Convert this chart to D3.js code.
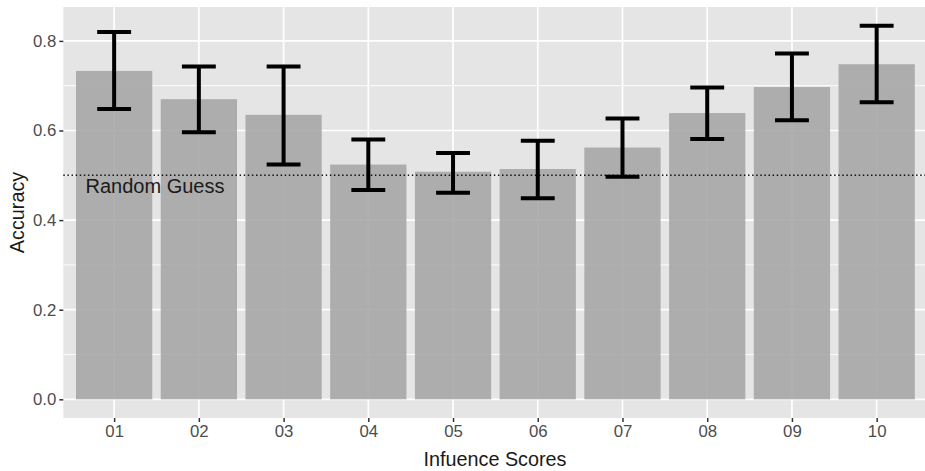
<!DOCTYPE html>
<html>
<head>
<meta charset="utf-8">
<script src="https://cdn.jsdelivr.net/npm/d3@7"></script>
<style>
  html, body { margin: 0; padding: 0; background: #fff; }
  svg { display: block; font-family: "Liberation Sans", Arial, sans-serif; }
</style>
</head>
<body>
<svg id="chart" width="925" height="471"></svg>
<script>
const categories = ["01","02","03","04","05","06","07","08","09","10"];
const accuracy   = [0.733, 0.670, 0.635, 0.524, 0.508, 0.514, 0.562, 0.639, 0.697, 0.748];
const errLow     = [0.648, 0.596, 0.524, 0.467, 0.461, 0.449, 0.497, 0.581, 0.623, 0.663];
const errHigh    = [0.820, 0.743, 0.743, 0.580, 0.550, 0.577, 0.627, 0.696, 0.772, 0.834];
const yTicks     = [0.0, 0.2, 0.4, 0.6, 0.8];
const yMinor     = [0.1, 0.3, 0.5, 0.7];
const randomGuess = 0.5;
const refLabel = "Random Guess";
const xTitle = "Infuence Scores";
const yTitle = "Accuracy";

const svg = d3.select("#chart");
const panel = {left: 63.3, top: 7, right: 927.5, bottom: 418};

const xc = d3.scalePoint().domain(categories).range([panel.left, panel.right]).padding(0.6);
const step = xc.step();
const barW = step * 0.9;
const capW = step * 0.4;

const yMax = d3.max(errHigh);
const exp = yMax * 0.05;
const y = d3.scaleLinear().domain([-exp, yMax + exp]).range([panel.bottom, panel.top]);

// panel background
svg.append("rect").attr("x", panel.left).attr("y", panel.top)
  .attr("width", panel.right - panel.left).attr("height", panel.bottom - panel.top)
  .attr("fill", "#e5e5e5");

// minor grid
svg.append("g").selectAll("line").data(yMinor).join("line")
  .attr("x1", panel.left).attr("x2", panel.right)
  .attr("y1", d => y(d)).attr("y2", d => y(d))
  .attr("stroke", "#fff").attr("stroke-width", 0.9);
// major grid
svg.append("g").selectAll("line").data(yTicks).join("line")
  .attr("x1", panel.left).attr("x2", panel.right)
  .attr("y1", d => y(d)).attr("y2", d => y(d))
  .attr("stroke", "#fff").attr("stroke-width", 1.7);
svg.append("g").selectAll("line").data(categories).join("line")
  .attr("x1", d => xc(d)).attr("x2", d => xc(d))
  .attr("y1", panel.top).attr("y2", panel.bottom)
  .attr("stroke", "#fff").attr("stroke-width", 1.7);

// bars
svg.append("g").selectAll("rect").data(categories).join("rect")
  .attr("x", d => xc(d) - barW / 2).attr("width", barW)
  .attr("y", (d, i) => y(accuracy[i]))
  .attr("height", (d, i) => y(0) - y(accuracy[i]))
  .attr("fill", "rgb(163,163,163)").attr("fill-opacity", 0.86);

// reference line
svg.append("line")
  .attr("x1", panel.left).attr("x2", panel.right)
  .attr("y1", y(randomGuess)).attr("y2", y(randomGuess))
  .attr("stroke", "#111").attr("stroke-width", 1.5)
  .attr("stroke-dasharray", "1.5,2.6");

svg.append("text").attr("x", 85.5).attr("y", y(randomGuess) + 18)
  .attr("font-size", 20).attr("fill", "#1a1a1a").text(refLabel);

// error bars
const eb = svg.append("g").attr("stroke", "#000").attr("stroke-width", 4).attr("fill", "none");
categories.forEach((c, i) => {
  const cx = xc(c);
  eb.append("line").attr("x1", cx).attr("x2", cx).attr("y1", y(errLow[i])).attr("y2", y(errHigh[i]));
  eb.append("line").attr("x1", cx - capW / 2).attr("x2", cx + capW / 2).attr("y1", y(errLow[i])).attr("y2", y(errLow[i]));
  eb.append("line").attr("x1", cx - capW / 2).attr("x2", cx + capW / 2).attr("y1", y(errHigh[i])).attr("y2", y(errHigh[i]));
});

// axes
const yAxis = d3.axisLeft(y).tickValues(yTicks).tickFormat(d3.format(".1f")).tickSize(4).tickPadding(3);
const gy = svg.append("g").attr("transform", `translate(${panel.left},0)`).call(yAxis);
gy.select(".domain").remove();
gy.selectAll(".tick line").attr("stroke", "#333").attr("stroke-width", 1.5);
gy.selectAll(".tick text").attr("font-size", 16.8).attr("fill", "#4d4d4d")
  .attr("font-family", "Liberation Sans, Arial, sans-serif");

const xAxis = d3.axisBottom(xc).tickSize(4).tickPadding(3);
const gx = svg.append("g").attr("transform", `translate(0,${panel.bottom})`).call(xAxis);
gx.select(".domain").remove();
gx.selectAll(".tick line").attr("stroke", "#333").attr("stroke-width", 1.5);
gx.selectAll(".tick text").attr("font-size", 16.8).attr("fill", "#4d4d4d")
  .attr("font-family", "Liberation Sans, Arial, sans-serif");

// titles
svg.append("text").attr("x", 495).attr("y", 465.5)
  .attr("text-anchor", "middle").attr("font-size", 19.8).attr("fill", "#1a1a1a").text(xTitle);
svg.append("text").attr("transform", `translate(24,${(panel.top + panel.bottom) / 2}) rotate(-90)`)
  .attr("text-anchor", "middle").attr("font-size", 19.8).attr("fill", "#1a1a1a").text(yTitle);
</script>
</body>
</html>
